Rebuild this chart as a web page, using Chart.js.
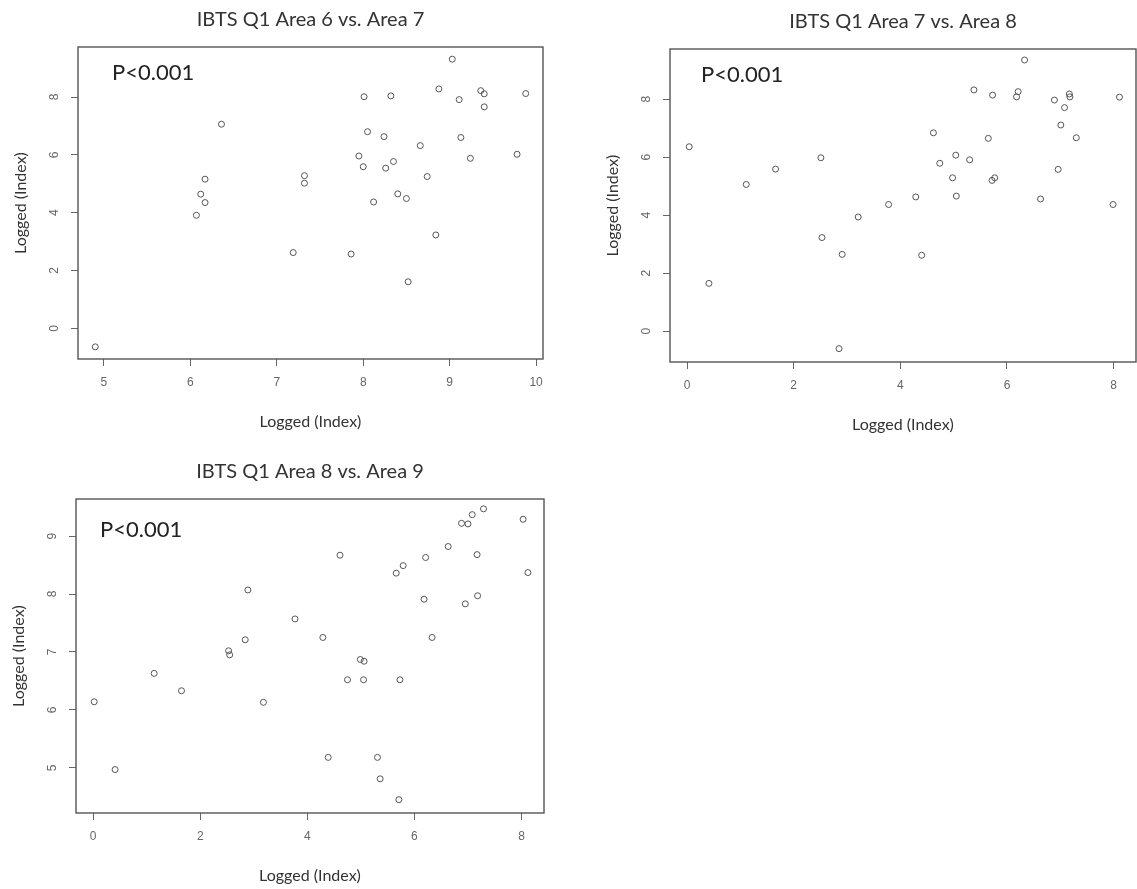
<!DOCTYPE html>
<html>
<head>
<meta charset="utf-8">
<title>IBTS Q1 area correlations</title>
<script src="https://cdn.jsdelivr.net/npm/chart.js@4.4.1/dist/chart.umd.min.js"></script>
<style>
  html, body { margin: 0; padding: 0; background: #fff; }
  #page { position: relative; width: 1137px; height: 889px; overflow: hidden; }
  #page canvas { position: absolute; }
</style>
</head>
<body>
<div id="page">
  <canvas id="p1"></canvas>
  <canvas id="p2"></canvas>
  <canvas id="p3"></canvas>
</div>
<script>
// logged index, area 6 (x) against area 7 (y)
const area6vs7X = [4.90, 6.07, 6.12, 6.17, 6.17, 6.36, 7.19, 7.32, 7.32, 7.86, 7.95, 8.00, 8.01, 8.05, 8.12, 8.24, 8.26, 8.32,
                   8.35, 8.40, 8.50, 8.52, 8.66, 8.74, 8.84, 8.875, 9.03, 9.11, 9.13, 9.24, 9.36, 9.40, 9.40, 9.78, 9.88];
const area6vs7Y = [-0.64, 3.91, 4.64, 4.35, 5.16, 7.06, 2.62, 5.28, 5.02, 2.57, 5.96, 5.59, 8.01, 6.80, 4.37, 6.63, 5.54, 8.04,
                   5.77, 4.65, 4.49, 1.61, 6.32, 5.25, 3.23, 8.28, 9.31, 7.91, 6.60, 5.88, 8.22, 8.11, 7.66, 6.02, 8.12];

// area 8 (x) against area 7 (y)
const area7vs8X = [0.04, 0.41, 1.11, 1.66, 2.51, 2.53, 2.85, 2.91, 3.21, 3.78, 4.29, 4.40, 4.62, 4.74, 4.98, 5.04, 5.05, 5.30,
                   5.38, 5.65, 5.72, 5.73, 5.77, 6.18, 6.21, 6.33, 6.63, 6.89, 6.96, 7.01, 7.08, 7.17, 7.18, 7.30, 7.99, 8.11];
const area7vs8Y = [6.36, 1.65, 5.06, 5.59, 5.98, 3.23, -0.60, 2.65, 3.94, 4.37, 4.63, 2.62, 6.84, 5.79, 5.29, 6.07, 4.66, 5.91,
                   8.32, 6.65, 5.20, 8.14, 5.29, 8.08, 8.26, 9.35, 4.56, 7.97, 5.58, 7.11, 7.71, 8.18, 8.08, 6.67, 4.37, 8.07];

// area 8 (x) against area 9 (y)
const area8vs9X = [0.02, 0.41, 1.14, 1.65, 2.53, 2.55, 2.84, 2.89, 3.18, 3.77, 4.29, 4.39, 4.61, 4.75, 4.99, 5.05, 5.06, 5.31,
                   5.36, 5.66, 5.71, 5.73, 5.79, 6.18, 6.21, 6.33, 6.63, 6.88, 6.95, 7.00, 7.08, 7.17, 7.18, 7.29, 8.03, 8.12];
const area8vs9Y = [6.14, 4.97, 6.63, 6.33, 7.02, 6.95, 7.21, 8.07, 6.13, 7.57, 7.25, 5.18, 8.67, 6.52, 6.87, 6.52, 6.84, 5.18,
                   4.81, 8.36, 4.45, 6.52, 8.49, 7.91, 8.63, 7.25, 8.82, 9.22, 7.83, 9.21, 9.37, 8.68, 7.97, 9.47, 9.29, 8.37];

const ticks6vs7X = [5, 6, 7, 8, 9, 10];
const ticks6vs7Y = [0, 2, 4, 6, 8];
const ticks7vs8X = [0, 2, 4, 6, 8];
const ticks7vs8Y = [0, 2, 4, 6, 8];
const ticks8vs9X = [0, 2, 4, 6, 8];
const ticks8vs9Y = [5, 6, 7, 8, 9];

const panelTitles = ['IBTS Q1 Area 6 vs. Area 7', 'IBTS Q1 Area 7 vs. Area 8', 'IBTS Q1 Area 8 vs. Area 9'];
const axisLabel = 'Logged (Index)';
const pLabel = 'P<0.001';

// margins around each plot box inside its canvas
const ML = 76, MT = 46, MR = 12, MB = 76;

const panels = [
  { id: 'p1', box: { left: 78, top: 47, right: 543, bottom: 359 }, x: [4.7, 10.08], y: [-1.06, 9.73],
    xs: area6vs7X, ys: area6vs7Y, xt: ticks6vs7X, yt: ticks6vs7Y, title: panelTitles[0], pPos: [34, 26] },
  { id: 'p2', box: { left: 670, top: 49, right: 1136, bottom: 362 }, x: [-0.32, 8.42], y: [-1.06, 9.73],
    xs: area7vs8X, ys: area7vs8Y, xt: ticks7vs8X, yt: ticks7vs8Y, title: panelTitles[1], pPos: [31, 26] },
  { id: 'p3', box: { left: 76, top: 499, right: 544, bottom: 813 }, x: [-0.32, 8.42], y: [4.22, 9.64],
    xs: area8vs9X, ys: area8vs9Y, xt: ticks8vs9X, yt: ticks8vs9Y, title: panelTitles[2], pPos: [24, 31] }
];

// frame, tick labels, titles and the p-value note
const panelDecor = {
  id: 'panelDecor',
  afterDraw(chart, args, opts) {
    const { ctx, chartArea: a, scales: { x, y } } = chart;
    ctx.save();
    ctx.strokeStyle = '#555';
    ctx.lineWidth = 1.4;
    ctx.strokeRect(a.left, a.top, a.right - a.left, a.bottom - a.top);

    ctx.fillStyle = '#666';
    ctx.font = '12px "Liberation Sans", Arial, sans-serif';
    ctx.textAlign = 'center';
    ctx.textBaseline = 'middle';
    x.ticks.forEach(t => ctx.fillText(String(t.value), x.getPixelForValue(t.value), a.bottom + 24));
    y.ticks.forEach(t => {
      ctx.save();
      ctx.translate(a.left - 23, y.getPixelForValue(t.value));
      ctx.rotate(-Math.PI / 2);
      ctx.fillText(String(t.value), 0, 0);
      ctx.restore();
    });

    ctx.fillStyle = '#333';
    ctx.font = '20px Lato, "Open Sans", sans-serif';
    ctx.fillText(opts.title, (a.left + a.right) / 2, a.top - 27);

    ctx.font = '16px Lato, "Open Sans", sans-serif';
    ctx.fillText(axisLabel, (a.left + a.right) / 2, a.bottom + 63);
    ctx.save();
    ctx.translate(a.left - 57, (a.top + a.bottom) / 2);
    ctx.rotate(-Math.PI / 2);
    ctx.fillText(axisLabel, 0, 0);
    ctx.restore();

    ctx.fillStyle = '#222';
    ctx.font = '22px Lato, "Open Sans", sans-serif';
    ctx.textAlign = 'left';
    ctx.fillText(pLabel, a.left + opts.pPos[0], a.top + opts.pPos[1]);
    ctx.restore();
  }
};

function axisOptions(range, tickValues, horizontal) {
  return {
    type: 'linear',
    min: range[0],
    max: range[1],
    afterBuildTicks: s => { s.ticks = tickValues.map(v => ({ value: v })); },
    afterFit: s => { if (horizontal) s.height = MB; else s.width = ML; },
    ticks: { display: false },
    border: { display: false },
    grid: { drawOnChartArea: false, drawTicks: true, tickLength: 7, tickColor: '#666', lineWidth: 1 }
  };
}

panels.forEach(p => {
  const canvas = document.getElementById(p.id);
  const w = p.box.right - p.box.left + ML + MR;
  const h = p.box.bottom - p.box.top + MT + MB;
  canvas.width = w;
  canvas.height = h;
  canvas.style.left = (p.box.left - ML) + 'px';
  canvas.style.top = (p.box.top - MT) + 'px';

  new Chart(canvas.getContext('2d'), {
    type: 'scatter',
    data: {
      datasets: [{
        data: p.xs.map((v, i) => ({ x: v, y: p.ys[i] })),
        pointStyle: 'circle',
        pointRadius: 3,
        borderWidth: 1,
        borderColor: '#555',
        backgroundColor: 'rgba(0,0,0,0)'
      }]
    },
    options: {
      responsive: false,
      animation: false,
      layout: { padding: { left: 0, top: MT, right: MR, bottom: 0 } },
      plugins: {
        legend: { display: false },
        tooltip: { enabled: false },
        panelDecor: { title: p.title, pPos: p.pPos }
      },
      scales: {
        x: axisOptions(p.x, p.xt, true),
        y: axisOptions(p.y, p.yt, false)
      }
    },
    plugins: [panelDecor]
  });
});
</script>
</body>
</html>
